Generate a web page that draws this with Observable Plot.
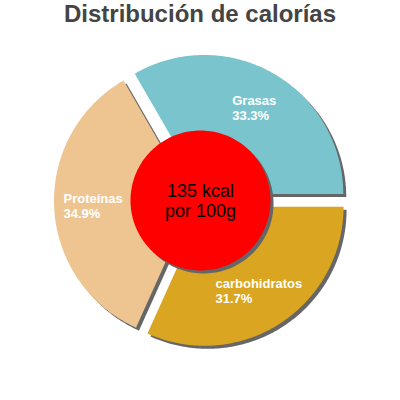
<!DOCTYPE html>
<html>
<head>
<meta charset="utf-8">
<script src="https://cdn.jsdelivr.net/npm/d3@7"></script>
<script src="https://cdn.jsdelivr.net/npm/@observablehq/plot@0.6"></script>
<style>
  html, body { margin: 0; padding: 0; background: #fff; }
  #title { margin: 0; height: 30px; line-height: 30px; text-align: center;
           font: bold 24px "Liberation Sans", Arial, sans-serif; color: #444; }
  #chart svg { display: block; }
</style>
</head>
<body>
<div id="title">Distribución de calorías</div>
<div id="chart"></div>
<script>
// ---- data ----
const categories = ["carbohidratos", "Proteínas", "Grasas"];
const percents = [31.7, 34.9, 33.3];
const colors = ["#DAA520", "#EEC591", "#7AC5CD"];
const centerLines = ["135 kcal", "por 100g"];

// ---- layout ----
const W = 400, H = 370, CY = 170;
const R = 139, HOLE = 70, EXPLODE = 7.5, LABEL_R = 100;
const labelFont = 'bold 13px "Liberation Sans", Arial, sans-serif';

const ctx = document.createElement("canvas").getContext("2d");
ctx.font = labelFont;

const arcs = d3.pie().sort(null).startAngle(Math.PI / 2).endAngle(Math.PI / 2 + 2 * Math.PI)(percents);

const slicePts = [];
const labels = [];
arcs.forEach((a, i) => {
  const m = (a.startAngle + a.endAngle) / 2;
  const ox = EXPLODE * Math.sin(m), oy = EXPLODE * Math.cos(m);
  slicePts.push({k: i, x: ox, y: oy});
  const n = 120;
  for (let j = 0; j <= n; j++) {
    const t = a.startAngle + (a.endAngle - a.startAngle) * j / n;
    slicePts.push({k: i, x: ox + R * Math.sin(t), y: oy + R * Math.cos(t)});
  }
  const text = `${categories[i]}\n${percents[i].toFixed(1)}%`;
  const w = Math.max(...text.split("\n").map(s => ctx.measureText(s).width));
  labels.push({
    text,
    x: ox + LABEL_R * Math.sin(m) - w / 2,
    y: oy + LABEL_R * Math.cos(m)
  });
});

const holePts = d3.range(0, 181).map(j => {
  const t = 2 * Math.PI * j / 180;
  return {x: HOLE * Math.sin(t), y: HOLE * Math.cos(t)};
});

const chart = Plot.plot({
  width: W, height: H, margin: 0,
  x: {domain: [-200, 200], axis: null},
  y: {domain: [CY - H, CY], axis: null},
  marks: [
    Plot.line(slicePts, {x: "x", y: "y", z: "k", fill: "#666", stroke: "none", curve: "linear-closed", dx: 3, dy: 3}),
    Plot.line(slicePts, {x: "x", y: "y", z: "k", fill: d => colors[d.k], stroke: "none", curve: "linear-closed"}),
    Plot.line(holePts, {x: "x", y: "y", fill: "#666", stroke: "none", curve: "linear-closed", dx: 3, dy: 3}),
    Plot.line(holePts, {x: "x", y: "y", fill: "#FF0000", stroke: "none", curve: "linear-closed"}),
    Plot.text(labels, {x: "x", y: "y", text: "text", fill: "white", textAnchor: "start",
      fontSize: 13, fontWeight: "bold", fontFamily: '"Liberation Sans", Arial, sans-serif', lineHeight: 1.15}),
    Plot.text([centerLines.join("\n")], {x: () => 0, y: () => 0, text: d => d, fill: "black",
      fontSize: 18, fontFamily: '"Liberation Sans", Arial, sans-serif', lineHeight: 1.15})
  ]
});
document.getElementById("chart").appendChild(chart);
</script>
</body>
</html>
